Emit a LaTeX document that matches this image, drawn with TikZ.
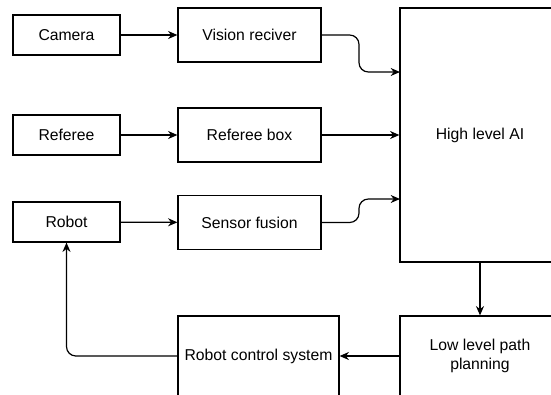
\documentclass[tikz,border=0pt]{standalone}
\usepackage{fontspec}
\setmainfont{Liberation Sans}
\usepackage{tikz}
\usetikzlibrary{arrows.meta}

\tikzset{
  blk/.style={draw, line width=0.9pt, fill=white, inner sep=2pt, align=center,
    font=\fontsize{11.8}{14.5}\selectfont},
  conn/.style={draw, line width=0.9pt, -{Stealth[length=7pt,width=6pt]}},
}

\begin{document}
\begin{tikzpicture}[x=0.75pt,y=0.75pt,yscale=-1,xscale=1]
\useasboundingbox (0,0) rectangle (551,394);
\clip (0,0) rectangle (551,394);

%Shape: Rectangle [left column]
\node [blk, minimum width=80.25pt, minimum height=30pt] (camera) at (66.5,35) {Camera};
\node [blk, minimum width=80.25pt, minimum height=30pt] (referee) at (66.5,135) {Referee};
\node [blk, minimum width=80.25pt, minimum height=30pt] (robot) at (66.5,222) {Robot};

%Shape: Rectangle [middle column]
\node [blk, minimum width=107.25pt, minimum height=40.5pt] (vision) at (249.5,35) {Vision reciver};
\node [blk, minimum width=107.25pt, minimum height=40.5pt] (refbox) at (249.5,135) {Referee box};
\node [blk, minimum width=107.25pt, minimum height=40.5pt] (fusion) at (249.5,222.5) {Sensor fusion};

%Shape: Rectangle [right column]
\node [blk, minimum width=120pt, minimum height=190.5pt] (highai) at (480,135) {High level AI};
\node [blk, minimum width=120pt, minimum height=60pt] (lowpath) at (480,356) {Low level path\\planning};
\node [blk, minimum width=120.75pt, minimum height=60pt] (control) at (258.5,356) {Robot control system};

% entry points on the AI box
\coordinate (aiup) at (400,72);
\coordinate (aidown) at (400,199);

%Straight Lines
\draw [conn] (camera) -- (vision);
\draw [conn] (referee) -- (refbox);
\draw [conn] (robot) -- (fusion);
\draw [conn] (refbox) -- (refbox -| highai.west);
\draw [conn] (highai.south) -- (lowpath.north);
\draw [conn] (lowpath) -- (control);

%Curved Lines
\draw [conn, rounded corners=7pt] (vision.east) -- (359,35) -- (359,72) -- (aiup);
\draw [conn, rounded corners=7pt] (fusion.east) -- (359,222.5) -- (359,199) -- (aidown);
\draw [conn, rounded corners=7pt] (control.west) -| (robot.south);

\end{tikzpicture}
\end{document}
